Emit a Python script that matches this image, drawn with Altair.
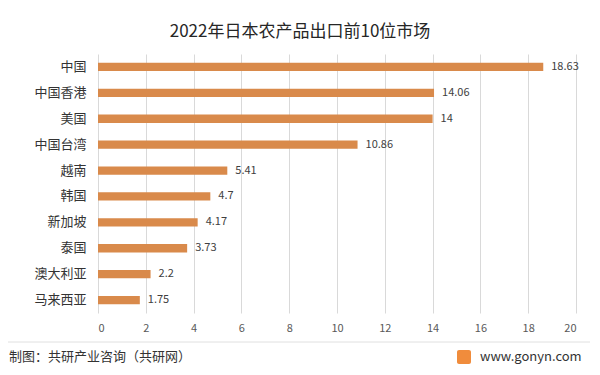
import altair as alt
import pandas as pd

markets = ["中国", "中国香港", "美国", "中国台湾", "越南", "韩国", "新加坡", "泰国", "澳大利亚", "马来西亚"]
values = [18.63, 14.06, 14, 10.86, 5.41, 4.7, 4.17, 3.73, 2.2, 1.75]
x_ticks = [0, 2, 4, 6, 8, 10, 12, 14, 16, 18, 20]
title_text = "2022年日本农产品出口前10位市场"
source_text = "制图：共研产业咨询（共研网）"
site_text = "www.gonyn.com"

df = pd.DataFrame({"market": markets, "value": values})
FONT = "Noto Sans CJK SC"
W, H = 478, 259

x_enc = alt.X("value:Q", scale=alt.Scale(domain=[0, 20], nice=False),
              axis=alt.Axis(values=x_ticks, title=None, grid=True, gridColor="#D9D9D9",
                            domain=False, ticks=False, labelPadding=9, labelFontSize=11,
                            labelColor="#595959", labelFont=FONT))
y_enc = alt.Y("market:N", sort=markets,
              scale=alt.Scale(paddingInner=0.68, paddingOuter=0.34),
              axis=alt.Axis(title=None, domain=False, ticks=False, labelPadding=12,
                            labelFontSize=13, labelColor="#333333", labelFont=FONT))

base = alt.Chart(df)
bars = base.mark_bar(color="#D98A4B").encode(x=x_enc, y=y_enc)
labels = base.mark_text(align="left", dx=8, fontSize=11, color="#404040", font=FONT).encode(
    x="value:Q", y=alt.Y("market:N", sort=markets), text=alt.Text("value:Q"))

meta = pd.DataFrame({"t": [title_text]})
title = alt.Chart(meta).mark_text(fontSize=17, color="#262626", font=FONT, align="center").encode(
    x=alt.value(202), y=alt.value(-22), text="t:N")
rule = alt.Chart(meta).mark_rule(color="#E0E0E0", strokeWidth=1).encode(
    x=alt.value(-98), x2=alt.value(492), y=alt.value(288))
src = alt.Chart(pd.DataFrame({"t": [source_text]})).mark_text(
    fontSize=13, color="#333333", font=FONT, align="left").encode(
    x=alt.value(-89), y=alt.value(303), text="t:N")
site = alt.Chart(pd.DataFrame({"t": [site_text]})).mark_text(
    fontSize=13, color="#333333", font=FONT, align="left").encode(
    x=alt.value(382), y=alt.value(303), text="t:N")
logo = alt.Chart(meta).mark_rect(color="#F08C3C", cornerRadius=2).encode(
    x=alt.value(359), x2=alt.value(373), y=alt.value(296), y2=alt.value(310))

chart = alt.layer(bars, labels, title, rule, src, site, logo).properties(
    width=W, height=H,
    autosize=alt.AutoSizeParams(type="none"),
    padding={"left": 90, "top": 46, "right": 14, "bottom": 58},
    background="white",
).configure_view(stroke=None).resolve_scale(y="shared")

chart.save("out.html", embed_options={"renderer": "svg", "actions": False})
